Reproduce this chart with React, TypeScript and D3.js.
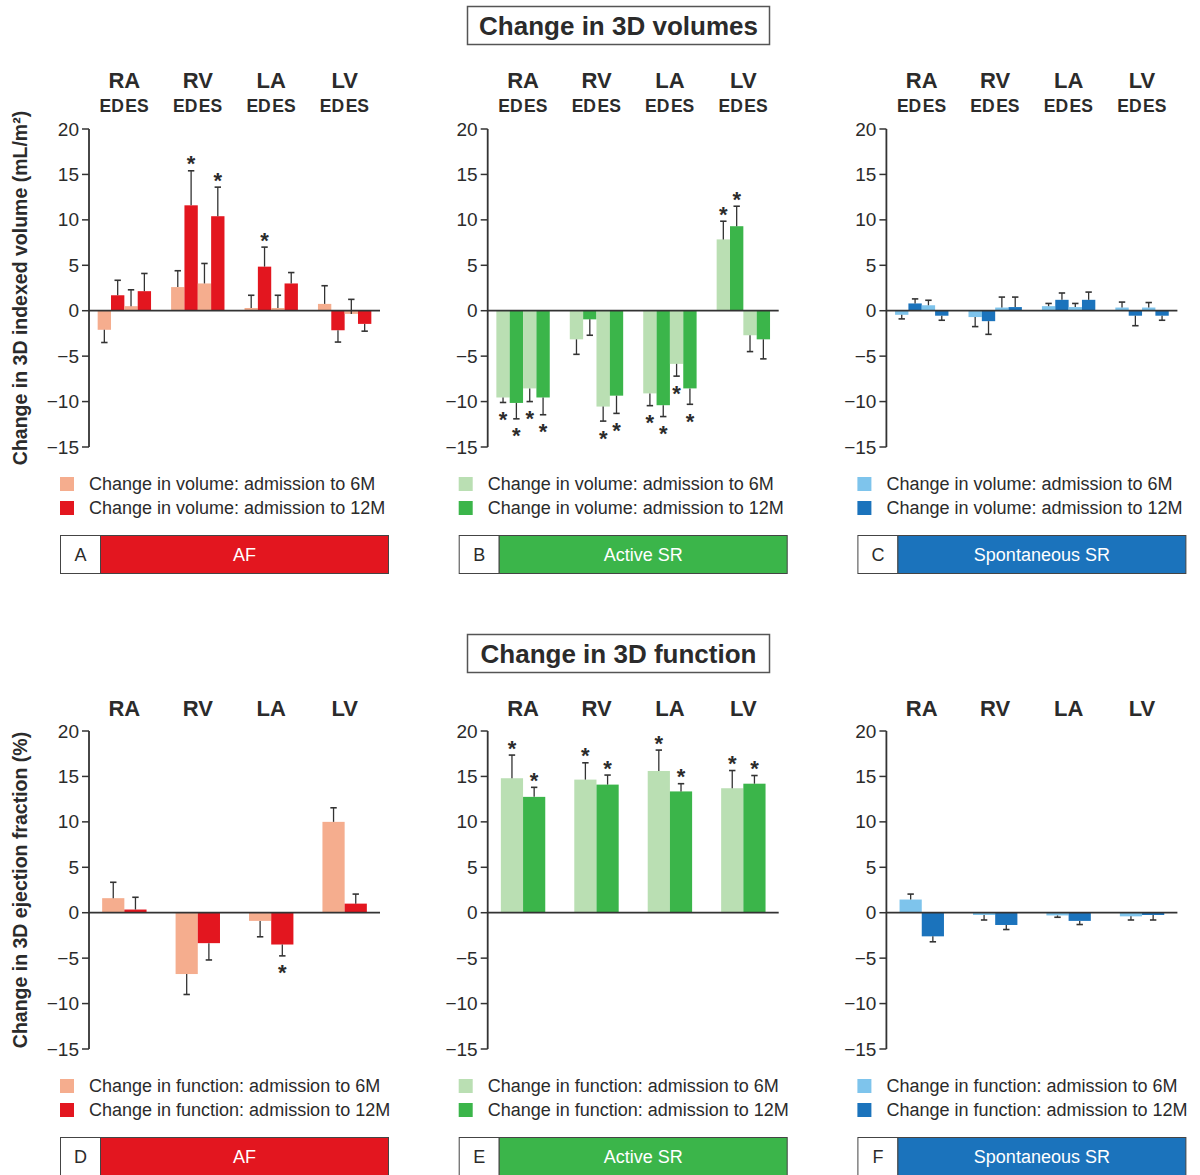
import React from "react";
import * as d3 from "d3";

// ---------- categories / tick labels ----------
const chambers = ["RA", "RV", "LA", "LV"];
const phases = ["ED", "ES"];
const periods = ["6M", "12M"];
const yTicks = [-15, -10, -5, 0, 5, 10, 15, 20];

// ---------- volume data (order: RA-ED, RA-ES, RV-ED, RV-ES, LA-ED, LA-ES, LV-ED, LV-ES) ----------
const afVol6M = [-2.1, 0.5, 2.6, 3.0, 0.3, 0.3, 0.75, -0.35];
const afVol6MErr = [-3.5, 2.3, 4.4, 5.2, 1.7, 1.7, 2.75, 1.25];
const afVol6MStar = [0, 0, 0, 0, 0, 0, 0, 0];
const afVol12M = [1.7, 2.15, 11.6, 10.4, 4.85, 3.0, -2.15, -1.45];
const afVol12MErr = [3.35, 4.1, 15.4, 13.6, 7.0, 4.2, -3.45, -2.25];
const afVol12MStar = [0, 0, 1, 1, 1, 0, 0, 0];

const actVol6M = [-9.55, -8.55, -3.15, -10.55, -9.1, -5.85, 7.85, -2.7];
const actVol6MErr = [-10.1, -10.0, -4.8, -12.15, -10.45, -7.2, 9.85, -4.5];
const actVol6MStar = [1, 1, 0, 1, 1, 1, 1, 0];
const actVol12M = [-10.15, -9.55, -0.95, -9.35, -10.4, -8.55, 9.3, -3.15];
const actVol12MErr = [-11.9, -11.45, -2.7, -11.3, -11.65, -10.3, 11.5, -5.3];
const actVol12MStar = [1, 1, 0, 1, 1, 1, 1, 0];

const spVol6M = [-0.45, 0.6, -0.7, 0.35, 0.5, 0.4, 0.35, 0.35];
const spVol6MErr = [-0.9, 1.15, -1.75, 1.5, 0.8, 0.8, 0.95, 0.9];
const spVol6MStar = [0, 0, 0, 0, 0, 0, 0, 0];
const spVol12M = [0.8, -0.55, -1.15, 0.4, 1.2, 1.2, -0.55, -0.55];
const spVol12MErr = [1.3, -1.05, -2.6, 1.5, 1.95, 2.05, -1.65, -1.05];
const spVol12MStar = [0, 0, 0, 0, 0, 0, 0, 0];

// ---------- function data (order: RA, RV, LA, LV) ----------
const afFn6M = [1.6, -6.75, -0.9, 10.0];
const afFn6MErr = [3.35, -9.0, -2.65, 11.55];
const afFn6MStar = [0, 0, 0, 0];
const afFn12M = [0.35, -3.35, -3.5, 1.0];
const afFn12MErr = [1.7, -5.2, -4.75, 2.05];
const afFn12MStar = [0, 0, 1, 0];

const actFn6M = [14.8, 14.65, 15.6, 13.7];
const actFn6MErr = [17.35, 16.5, 17.9, 15.65];
const actFn6MStar = [1, 1, 1, 1];
const actFn12M = [12.75, 14.1, 13.35, 14.2];
const actFn12MErr = [13.8, 15.15, 14.2, 15.1];
const actFn12MStar = [1, 1, 1, 1];

const spFn6M = [1.45, -0.25, -0.3, -0.4];
const spFn6MErr = [2.05, -0.8, -0.5, -0.8];
const spFn6MStar = [0, 0, 0, 0];
const spFn12M = [-2.6, -1.35, -0.9, -0.25];
const spFn12MErr = [-3.2, -1.85, -1.3, -0.8];
const spFn12MStar = [0, 0, 0, 0];

// ---------- labels ----------
const groupNames = ["AF", "Active SR", "Spontaneous SR"];
const volLetters = ["A", "B", "C"];
const fnLetters = ["D", "E", "F"];
const volLegend = ["Change in volume: admission to 6M", "Change in volume: admission to 12M"];
const fnLegend = ["Change in function: admission to 6M", "Change in function: admission to 12M"];

// ---------- styling ----------
const FONT = "'Liberation Sans', Arial, Helvetica, sans-serif";
const TXT = "#2b2b2b";
const AX = "#333333";
const palette = [
  { light: "#F5AD8E", dark: "#E3161F" },
  { light: "#BADFB3", dark: "#3BB54A" },
  { light: "#7EC4EC", dark: "#1B73BC" },
];

const axisXs = [89, 487.7, 886.4];
const axisW = 291;
const volRow = { top: 129, bottom: 447, offset: 0 };
const fnRow = { top: 731, bottom: 1049, offset: 602 };
const fnGroupW = 44.4;

type Series = { v: number[]; e: number[]; s: number[] };

function ErrorBar({ x, y0, y1, star, dir }: { x: number; y0: number; y1: number; star: boolean; dir: number }) {
  return (
    <g>
      <line x1={x} x2={x} y1={y0} y2={y1} stroke={AX} strokeWidth={1.3} />
      <line x1={x - 3.2} x2={x + 3.2} y1={y1} y2={y1} stroke={AX} strokeWidth={1.6} />
      {star && (
        <text
          x={x}
          y={y1 + dir * 12 + 12.5}
          textAnchor="middle"
          fontSize={22}
          fontWeight="bold"
          fontFamily={FONT}
          fill={TXT}
        >
          *
        </text>
      )}
    </g>
  );
}

function Panel({
  col,
  kind,
  s6,
  s12,
}: {
  col: number;
  kind: "vol" | "fn";
  s6: Series;
  s12: Series;
}) {
  const ax = axisXs[col];
  const row = kind === "vol" ? volRow : fnRow;
  const colors = palette[col];
  const y = d3.scaleLinear().domain([-15, 20]).range([row.bottom, row.top]);
  const x = d3
    .scaleBand<string>()
    .domain(chambers)
    .range([ax, ax + axisW])
    .paddingInner(0.273)
    .paddingOuter(0.118);
  const bw = x.bandwidth();
  const fmt = d3.format("d");

  const bars: React.ReactNode[] = [];
  const errs: React.ReactNode[] = [];
  const heads: React.ReactNode[] = [];

  chambers.forEach((c, ci) => {
    const x0 = x(c)!;
    const cx = x0 + bw / 2;
    heads.push(
      <text
        key={"h" + c}
        x={cx}
        y={kind === "vol" ? 88 : 716}
        textAnchor="middle"
        fontSize={22}
        fontWeight="bold"
        fontFamily={FONT}
        fill={TXT}
      >
        {c}
      </text>
    );
    if (kind === "vol") {
      const sub = d3
        .scaleBand<string>()
        .domain(["ED-6M", "ED-12M", "ES-6M", "ES-12M"])
        .range([x0, x0 + bw]);
      phases.forEach((p, pi) => {
        const idx = ci * 2 + pi;
        heads.push(
          <text
            key={"p" + c + p}
            x={pi === 0 ? cx - 0.5 : cx + 1}
            y={112}
            textAnchor={pi === 0 ? "end" : "start"}
            fontSize={17.5}
            fontWeight="bold"
            fontFamily={FONT}
            fill={TXT}
          >
            {p}
          </text>
        );
        const sw = sub.bandwidth();
        periods.forEach((per) => {
          const ser = per === "6M" ? s6 : s12;
          const v = ser.v[idx];
          const bx = sub(p + "-" + per)!;
          bars.push(
            <rect
              key={c + p + per}
              x={bx}
              y={Math.min(y(v), y(0))}
              width={sw}
              height={Math.abs(y(v) - y(0))}
              fill={per === "6M" ? colors.light : colors.dark}
            />
          );
          const e = ser.e[idx];
          errs.push(
            <ErrorBar
              key={"e" + c + p + per}
              x={bx + sw / 2}
              y0={y(v)}
              y1={y(e)}
              star={!!ser.s[idx]}
              dir={e >= v ? -1 : 1}
            />
          );
        });
      });
    } else {
      const sub = d3
        .scaleBand<string>()
        .domain(periods)
        .range([cx - fnGroupW / 2, cx + fnGroupW / 2]);
      const sw = sub.bandwidth();
      periods.forEach((per) => {
        const ser = per === "6M" ? s6 : s12;
        const v = ser.v[ci];
        const bx = sub(per)!;
        bars.push(
          <rect
            key={c + per}
            x={bx}
            y={Math.min(y(v), y(0))}
            width={sw}
            height={Math.abs(y(v) - y(0))}
            fill={per === "6M" ? colors.light : colors.dark}
          />
        );
        const e = ser.e[ci];
        errs.push(
          <ErrorBar
            key={"e" + c + per}
            x={bx + sw / 2}
            y0={y(v)}
            y1={y(e)}
            star={!!ser.s[ci]}
            dir={e >= v ? -1 : 1}
          />
        );
      });
    }
  });

  const legend = kind === "vol" ? volLegend : fnLegend;
  const letters = kind === "vol" ? volLetters : fnLetters;
  const off = row.offset;

  return (
    <g>
      {heads}
      {bars}
      {errs}
      {/* y axis */}
      <line x1={ax} x2={ax} y1={y(20)} y2={y(-15)} stroke={AX} strokeWidth={1.8} />
      {yTicks.map((t) => (
        <g key={"t" + t}>
          <line x1={ax - 7} x2={ax} y1={y(t)} y2={y(t)} stroke={AX} strokeWidth={1.5} />
          <text
            x={ax - 10}
            y={y(t) + 6.5}
            textAnchor="end"
            fontSize={19}
            fontFamily={FONT}
            fill={TXT}
          >
            {fmt(t)}
          </text>
        </g>
      ))}
      {/* zero line */}
      <line x1={ax} x2={ax + axisW} y1={y(0)} y2={y(0)} stroke={AX} strokeWidth={1.8} />
      {/* legend */}
      {legend.map((l, i) => (
        <g key={"lg" + i}>
          <rect
            x={ax - 29}
            y={477 + off + i * 24}
            width={14}
            height={14}
            fill={i === 0 ? colors.light : colors.dark}
          />
          <text x={ax} y={490 + off + i * 24} fontSize={18} fontFamily={FONT} fill={TXT}>
            {l}
          </text>
        </g>
      ))}
      {/* group label bar */}
      <rect x={ax - 28.5} y={535.5 + off} width={40} height={38} fill="#fff" stroke="#444" strokeWidth={1} />
      <rect x={ax + 11.5} y={535.5 + off} width={288} height={38} fill={colors.dark} stroke="#444" strokeWidth={1} />
      <text x={ax - 8.5} y={561 + off} textAnchor="middle" fontSize={18} fontFamily={FONT} fill={TXT}>
        {letters[col]}
      </text>
      <text
        x={ax + 155.5}
        y={561 + off}
        textAnchor="middle"
        fontSize={18}
        fontFamily={FONT}
        fill="#fff"
      >
        {groupNames[col]}
      </text>
    </g>
  );
}

export default function App() {
  const volSeries: [Series, Series][] = [
    [
      { v: afVol6M, e: afVol6MErr, s: afVol6MStar },
      { v: afVol12M, e: afVol12MErr, s: afVol12MStar },
    ],
    [
      { v: actVol6M, e: actVol6MErr, s: actVol6MStar },
      { v: actVol12M, e: actVol12MErr, s: actVol12MStar },
    ],
    [
      { v: spVol6M, e: spVol6MErr, s: spVol6MStar },
      { v: spVol12M, e: spVol12MErr, s: spVol12MStar },
    ],
  ];
  const fnSeries: [Series, Series][] = [
    [
      { v: afFn6M, e: afFn6MErr, s: afFn6MStar },
      { v: afFn12M, e: afFn12MErr, s: afFn12MStar },
    ],
    [
      { v: actFn6M, e: actFn6MErr, s: actFn6MStar },
      { v: actFn12M, e: actFn12MErr, s: actFn12MStar },
    ],
    [
      { v: spFn6M, e: spFn6MErr, s: spFn6MStar },
      { v: spFn12M, e: spFn12MErr, s: spFn12MStar },
    ],
  ];

  return (
    <div style={{ position: "absolute", left: 0, top: 0 }}>
      <svg width={1200} height={1175} style={{ display: "block", background: "#fff" }}>
        {/* section titles */}
        <rect x={467.5} y={6.5} width={302} height={38} fill="#fff" stroke="#555" strokeWidth={1.5} />
        <text x={618.5} y={35} textAnchor="middle" fontSize={26} fontWeight="bold" fontFamily={FONT} fill={TXT}>
          Change in 3D volumes
        </text>
        <rect x={467.5} y={634.5} width={302} height={38} fill="#fff" stroke="#555" strokeWidth={1.5} />
        <text x={618.5} y={663} textAnchor="middle" fontSize={26} fontWeight="bold" fontFamily={FONT} fill={TXT}>
          Change in 3D function
        </text>

        {/* y-axis titles */}
        <text
          transform={`translate(27,288) rotate(-90)`}
          textAnchor="middle"
          fontSize={19.5}
          fontWeight="bold"
          fontFamily={FONT}
          fill={TXT}
        >
          Change in 3D indexed volume (mL/m²)
        </text>
        <text
          transform={`translate(27,890) rotate(-90)`}
          textAnchor="middle"
          fontSize={19.5}
          fontWeight="bold"
          fontFamily={FONT}
          fill={TXT}
        >
          Change in 3D ejection fraction (%)
        </text>

        {volSeries.map(([a, b], i) => (
          <Panel key={"v" + i} col={i} kind="vol" s6={a} s12={b} />
        ))}
        {fnSeries.map(([a, b], i) => (
          <Panel key={"f" + i} col={i} kind="fn" s6={a} s12={b} />
        ))}
      </svg>
    </div>
  );
}
